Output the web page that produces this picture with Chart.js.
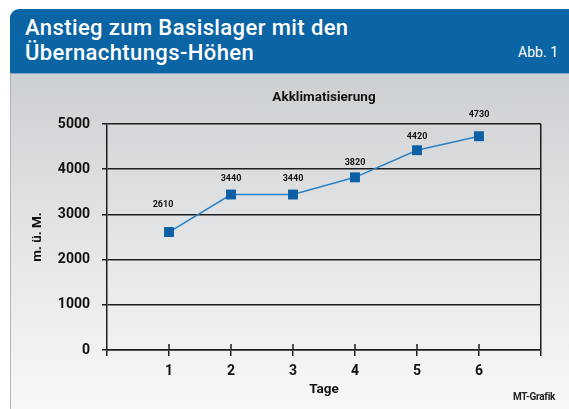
<!DOCTYPE html>
<html>
<head>
<meta charset="utf-8">
<script src="https://cdn.jsdelivr.net/npm/chart.js@4"></script>
<style>
  html, body { margin: 0; padding: 0; background: #ffffff; }
  body { width: 569px; height: 409px; position: relative; overflow: hidden; }
  #header {
    position: absolute; left: 10px; top: 9px; width: 559px; height: 64px;
    background: #0b64a3; border-top-left-radius: 9px;
    font-family: Roboto, 'Liberation Sans', sans-serif;
    color: #ffffff;
  }
  #h1 { position: absolute; left: 15px; top: 6px; font-size: 22px; font-weight: 500; line-height: 25px; letter-spacing: 0.4px; }
  #abb { position: absolute; right: 11px; top: 34px; font-size: 14px; line-height: 18px; }
  #panel {
    position: absolute; left: 10px; top: 73px; width: 559px; height: 336px;
    background: linear-gradient(to bottom, #cdd0d3 0%, #e4e5e7 50%, #f8f8f8 100%);
    border-top: 1px solid #7fa8cc; box-sizing: border-box;
    border-left: 1px solid #b5b5b5;
  }
  #wrap { position: absolute; left: 10px; top: 73px; width: 559px; height: 336px; }
  #credit { position: absolute; left: 513px; top: 391px; font-family: Roboto, sans-serif; font-size: 10px; font-weight: bold; color: #222; letter-spacing: -0.3px; }
</style>
</head>
<body>
<div id="header">
  <div id="h1">Anstieg zum Basislager mit den<br>Übernachtungs-Höhen</div>
  <div id="abb">Abb. 1</div>
</div>
<div id="panel"></div>
<div id="wrap"><canvas id="c" width="559" height="336"></canvas></div>
<div id="credit">MT-Grafik</div>
<script>
const days = [1, 2, 3, 4, 5, 6];
const heights = [2610, 3440, 3440, 3820, 4420, 4730];
const yTicks = [0, 1000, 2000, 3000, 4000, 5000];
const chartTitle = 'Akklimatisierung';
const xTitle = 'Tage';
const yTitle = 'm. ü. M.';
const labelOffsets = [27, 16, 16, 15, 13, 21];
const labelShiftX = [-6, 0, 0, 0, 0, 0];

const FONT = "Roboto, 'Liberation Sans', sans-serif";
const DARK = '#1e1e1e';

const labelPlugin = {
  id: 'valueLabels',
  afterDatasetsDraw(chart) {
    const ctx = chart.ctx;
    const meta = chart.getDatasetMeta(0);
    ctx.save();
    ctx.font = 'bold 9px ' + FONT;
    ctx.fillStyle = '#111';
    ctx.textAlign = 'center';
    ctx.textBaseline = 'middle';
    meta.data.forEach((pt, i) => {
      ctx.fillText(String(heights[i]), pt.x + labelShiftX[i], pt.y - labelOffsets[i]);
    });
    // chart title centred over the plot area
    const ca = chart.chartArea;
    ctx.font = 'bold 13.5px ' + FONT;
    ctx.fillText(chartTitle, (ca.left + ca.right) / 2, ca.top - 26);
    ctx.restore();
  }
};

const upTicks = {
  id: 'upTicks',
  afterDraw(chart) {
    const ctx = chart.ctx;
    const xs = chart.scales.x;
    const bottom = chart.chartArea.bottom;
    ctx.save();
    ctx.strokeStyle = DARK;
    ctx.lineWidth = 1.5;
    days.forEach(d => {
      const x = Math.round(xs.getPixelForValue(d));
      ctx.beginPath();
      ctx.moveTo(x, bottom - 6);
      ctx.lineTo(x, bottom);
      ctx.stroke();
    });
    ctx.restore();
  }
};

new Chart(document.getElementById('c'), {
  type: 'line',
  data: {
    datasets: [{
      data: days.map((d, i) => ({ x: d, y: heights[i] })),
      borderColor: '#2a80c4',
      borderWidth: 1.5,
      backgroundColor: '#0b5fa5',
      pointBackgroundColor: '#0b5fa5',
      pointBorderColor: '#0b5fa5',
      pointStyle: 'rect',
      pointRadius: 7,
      pointBorderWidth: 0,
      tension: 0,
      clip: false
    }]
  },
  options: {
    responsive: false,
    animation: false,
    events: [],
    layout: { padding: { left: 0, right: 28, top: 51, bottom: 0 } },
    plugins: {
      legend: { display: false },
      tooltip: { enabled: false },
      title: { display: false }
    },
    scales: {
      x: {
        type: 'linear', min: 0, max: 7,
        afterBuildTicks(scale) { scale.ticks = [0, ...days, 7].map(v => ({ value: v })); },
        ticks: {
          color: '#111', padding: 7,
          font: { family: FONT, size: 14, weight: 'bold' },
          callback: v => (days.includes(v) ? String(v) : '')
        },
        grid: {
          drawOnChartArea: true,
          color: c => (c.tick && c.tick.value === 7 ? DARK : 'rgba(0,0,0,0)'),
          tickColor: DARK, tickLength: 6, lineWidth: 1.5
        },
        border: { display: true, color: DARK, width: 1.5 },
        title: {
          display: true, text: xTitle, color: '#111',
          font: { family: FONT, size: 13.5, weight: 'bold' },
          padding: { top: 0, bottom: 11 }
        },
        afterFit(scale) { scale.height = 59; }
      },
      y: {
        min: 0, max: 5000,
        afterBuildTicks(scale) { scale.ticks = yTicks.map(v => ({ value: v })); },
        ticks: {
          color: '#111', padding: 12,
          font: { family: FONT, size: 14, weight: 'bold' },
          callback: v => String(v)
        },
        grid: { color: DARK, lineWidth: 1.5, tickLength: 5, tickColor: DARK },
        border: { display: true, color: DARK, width: 1.5 },
        title: {
          display: true, text: yTitle, color: '#111',
          font: { family: FONT, size: 13.5, weight: 'bold' },
          padding: { top: 20, bottom: 0 }
        },
        afterFit(scale) { scale.width = 97; }
      }
    }
  },
  plugins: [labelPlugin, upTicks]
});
</script>
</body>
</html>
